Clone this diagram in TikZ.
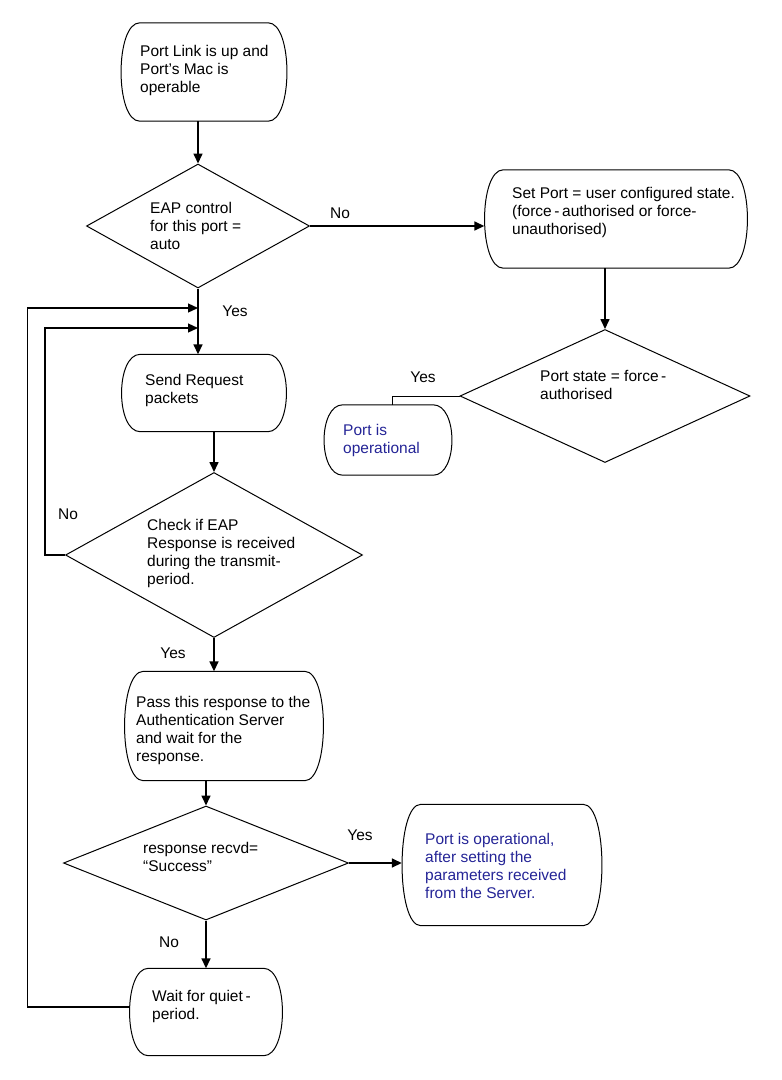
\documentclass[tikz,border=0pt]{standalone}
\usepackage{fontspec}
\setmainfont{Liberation Sans}
\usetikzlibrary{shapes.geometric,arrows.meta}
\definecolor{opblue}{RGB}{36,36,150}

\tikzstyle{term} = [rectangle, inner sep=0pt, append after command={\pgfextra{\let\termnode=\tikzlastnode
    \draw[line width=1pt] ([xshift=19pt]\termnode.north west) -- ([xshift=-19pt]\termnode.north east)
        .. controls +(25pt,0pt) and +(25pt,0pt) .. ([xshift=-19pt]\termnode.south east)
        -- ([xshift=19pt]\termnode.south west)
        .. controls +(-25pt,0pt) and +(-25pt,0pt) .. ([xshift=19pt]\termnode.north west) -- cycle;}}]
\tikzstyle{dec} = [diamond, draw, line width=1pt, inner sep=0pt]
\tikzstyle{txt} = [anchor=west, align=left, inner sep=0pt, font=\fontsize{15.5}{18}\selectfont]
\tikzstyle{optxt} = [txt, text=opblue]
\tikzstyle{lbl} = [inner sep=0pt, font=\fontsize{15.5}{18}\selectfont]
\tikzstyle{conn} = [line width=1.6pt, -{Triangle[length=10pt,width=9pt]}]
\tikzstyle{back} = [line width=1.3pt, -{Triangle[length=10pt,width=9pt]}]

\begin{document}
\begin{tikzpicture}[x=1pt, y=-1pt]
\useasboundingbox (0,0) rectangle (782,1080);
%boxes
\node[term, minimum width=166pt, minimum height=98pt] (start) at (204,72) {};
\node[txt] (start-txt) at (140,70) {Port Link is up and\\Port's Mac is\\operable};
\node[dec, minimum width=223pt, minimum height=124pt] (eapauto) at (198,226) {};
\node[txt] (eapauto-txt) at (150,226) {EAP control\\for this port =\\auto};
\node[term, minimum width=263pt, minimum height=98pt] (setport) at (616,219) {};
\node[txt] (setport-txt) at (512,212) {Set Port = user configured state.\\(force\,-\,authorised or force-\\unauthorised)};
\node[dec, minimum width=290pt, minimum height=133pt] (forced) at (605,396) {};
\node[txt] (forced-txt) at (540,385) {Port state = force\,-\\authorised};
\node[term, minimum width=128pt, minimum height=70pt] (portok) at (388,440) {};
\node[optxt] (portok-txt) at (343,440) {Port is\\operational};
\node[term, minimum width=165pt, minimum height=77pt] (send) at (204,393) {};
\node[txt] (send-txt) at (145,390) {Send Request\\packets};
\node[dec, minimum width=297pt, minimum height=165pt] (check) at (214,555) {};
\node[txt] (check-txt) at (147,553) {Check if EAP\\Response is received\\during the transmit-\\period.};
\node[term, minimum width=199pt, minimum height=109pt] (pass) at (224,726) {};
\node[txt] (pass-txt) at (136,730) {Pass this response to the\\Authentication Server\\and wait for the\\response.};
\node[dec, minimum width=285pt, minimum height=114pt] (success) at (206,863) {};
\node[txt] (success-txt) at (143,857) {response recvd=\\“Success”};
\node[term, minimum width=200pt, minimum height=121pt] (portup) at (502,865) {};
\node[optxt] (portup-txt) at (425,866) {Port is operational,\\after setting the\\parameters received\\from the Server.};
\node[term, minimum width=153pt, minimum height=87pt] (wait) at (206,1012) {};
\node[txt] (wait-txt) at (152,1006) {Wait for quiet\,-\\period.};
%labels
\node[lbl] (no1) at (340,213) {No};
\node[lbl] (yes1) at (235,311) {Yes};
\node[lbl] (yes2) at (423,377) {Yes};
\node[lbl] (no2) at (68,514) {No};
\node[lbl] (yes3) at (173,653) {Yes};
\node[lbl] (yes4) at (360,835) {Yes};
\node[lbl] (no3) at (169,942) {No};
%connectors
\coordinate (join1) at (198,308);
\coordinate (join2) at (198,328);
\draw[conn] (eapauto.north |- start.south) -- (eapauto.north);
\draw[conn] (eapauto.east) -- (eapauto.east -| setport.west);
\draw[conn] (forced.north |- setport.south) -- (forced.north);
\draw[line width=1pt] (forced.west) -| ([xshift=4pt]portok.north);
\draw[conn] (eapauto.south) -- (eapauto.south |- send.north);
\draw[conn] (check.north |- send.south) -- (check.north);
\draw[back] (check.west) -- ++(-20,0) |- (join2);
\draw[conn] (check.south) -- (check.south |- pass.north);
\draw[conn] (success.north |- pass.south) -- (success.north);
\draw[conn] (success.east) -- (success.east -| portup.west);
\draw[conn] (success.south) -- (success.south |- wait.north);
\draw[back] ([yshift=5pt]wait.west) -- ++(-102,0) |- (join1);
\end{tikzpicture}
\end{document}
